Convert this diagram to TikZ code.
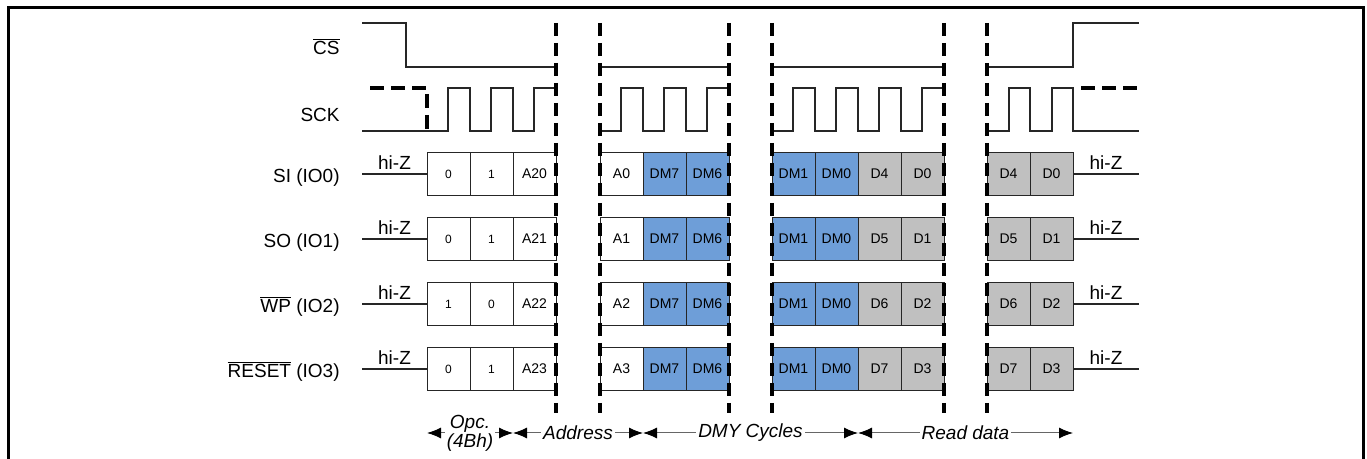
\documentclass[tikz,border=0pt]{standalone}
\usepackage{fontspec}
\setmainfont{Liberation Sans}
\usepackage{xcolor}
\usetikzlibrary{arrows.meta, positioning, calc}

\definecolor{dmyblue}{RGB}{110,158,216}
\definecolor{datgray}{RGB}{192,192,192}
\newcommand{\ovl}[1]{$\overline{\mbox{#1}}$}

\tikzset{
  sig/.style={line width=0.6pt, draw=black!85},
  sepline/.style={line width=1.6pt, dash pattern=on 6.5pt off 3.5pt},
  dashsig/.style={line width=1.6pt, dash pattern=on 7pt off 3.5pt},
  cell/.style={draw=black!85, line width=0.5pt, minimum width=21.5pt, minimum height=21.5pt,
    inner sep=0pt, outer sep=0pt, font=\fontsize{7}{8}\selectfont},
  opc/.style={cell, font=\fontsize{6}{7}\selectfont},
  dmy/.style={cell, fill=dmyblue},
  dat/.style={cell, fill=datgray},
  lbl/.style={anchor=base east, inner sep=0pt, font=\fontsize{9.5}{11}\selectfont},
  hiz/.style={above, inner sep=2pt, font=\fontsize{9.5}{11}\selectfont},
  span/.style={draw=black!60, line width=0.5pt,
    {Latex[length=7pt,width=5.5pt,black]}-{Latex[length=7pt,width=5.5pt,black]}},
  spantxt/.style={fill=white, inner sep=1pt, align=center,
    font=\fontsize{9.5}{9.5}\selectfont\itshape}
}

\begin{document}
\begin{tikzpicture}[x=0.5pt, y=-0.5pt]
  \useasboundingbox (0,0) rectangle (1367,459);
  % frame
  \draw[line width=1.5pt] (8,459) -- (8,8) -- (1363,8) -- (1363,459);

  % CS and SCK
  \node[lbl] (ncs) at (340,55) {\ovl{CS}};
  \node[lbl] (nsck) at (340,122) {SCK};
  \draw[sig] (362,23) -- (406,23) -- (406,67) -- (556,67);
  \draw[sig] (600,67) -- (729,67);
  \draw[sig] (772,67) -- (944,67);
  \draw[sig] (987,67) -- (1073,67) -- (1073,23) -- (1139,23);
  \draw[sig] (362,131) -- (448,131) -- (448,88) -- (470,88) -- (470,131) -- (491,131)
    -- (491,88) -- (513,88) -- (513,131) -- (534,131) -- (534,88) -- (556,88);
  \draw[sig] (600,131) -- (621,131) -- (621,88) -- (643,88) -- (643,131) -- (664,131)
    -- (664,88) -- (686,88) -- (686,131) -- (707,131) -- (707,88) -- (729,88);
  \draw[sig] (772,131) -- (793,131) -- (793,88) -- (815,88) -- (815,131) -- (836,131)
    -- (836,88) -- (858,88) -- (858,131) -- (879,131) -- (879,88) -- (901,88)
    -- (901,131) -- (922,131) -- (922,88) -- (944,88);
  \draw[sig] (987,131) -- (1009,131) -- (1009,88) -- (1030,88) -- (1030,131) -- (1052,131)
    -- (1052,88) -- (1073,88) -- (1073,131) -- (1139,131);
  \draw[dashsig] (370,88) -- (427,88) -- (427,131);
  \draw[dashsig] (1081,88) -- (1139,88);

  % data lines
  \foreach \i/\yy/\sname/\oa/\ob/\oc/\ad/\dh/\dl in {
    1/174/{SI (IO0)}/0/1/A20/A0/D4/D0,
    2/239/{SO (IO1)}/0/1/A21/A1/D5/D1,
    3/304/{\ovl{WP} (IO2)}/1/0/A22/A2/D6/D2,
    4/369/{\ovl{RESET} (IO3)}/0/1/A23/A3/D7/D3}{
    \node[lbl] (name\i) at (340,\yy+9) {\sname};
    \node[opc, anchor=west] (c\i-1) at (427,\yy) {\oa};
    \node[opc, right=0pt of c\i-1] (c\i-2) {\ob};
    \node[cell, right=0pt of c\i-2] (c\i-3) {\oc};
    \node[cell, anchor=west] (c\i-4) at (600,\yy) {\ad};
    \node[dmy, right=0pt of c\i-4] (c\i-5) {DM7};
    \node[dmy, right=0pt of c\i-5] (c\i-6) {DM6};
    \node[dmy, anchor=west] (c\i-7) at (772,\yy) {DM1};
    \node[dmy, right=0pt of c\i-7] (c\i-8) {DM0};
    \node[dat, right=0pt of c\i-8] (c\i-9) {\dh};
    \node[dat, right=0pt of c\i-9] (c\i-10) {\dl};
    \node[dat, anchor=west] (c\i-11) at (987,\yy) {\dh};
    \node[dat, right=0pt of c\i-11] (c\i-12) {\dl};
    \coordinate (zl\i) at (362,\yy);
    \coordinate (zr\i) at (1139,\yy);
    \draw[sig] (zl\i) -- node[hiz] {hi-Z} (c\i-1.west);
    \draw[sig] (c\i-12.east) -- node[hiz] {hi-Z} (zr\i);
  }

  % separators
  \foreach \xx in {556,600,729,772,944,987}
    \draw[sepline] (\xx,23) -- (\xx,413);

  % phases
  \coordinate (s0) at (427,433);
  \coordinate (s1) at (513,433);
  \coordinate (s2) at (643,433);
  \coordinate (s3) at (858,433);
  \coordinate (s4) at (1073,433);
  \draw[span] (s0) -- node[spantxt] {Opc.\\(4Bh)} (s1);
  \draw[span] (s1) -- node[spantxt] {Address} (s2);
  \draw[span] (s2) -- node[spantxt] {DMY Cycles} (s3);
  \draw[span] (s3) -- node[spantxt] {Read data} (s4);
\end{tikzpicture}
\end{document}
